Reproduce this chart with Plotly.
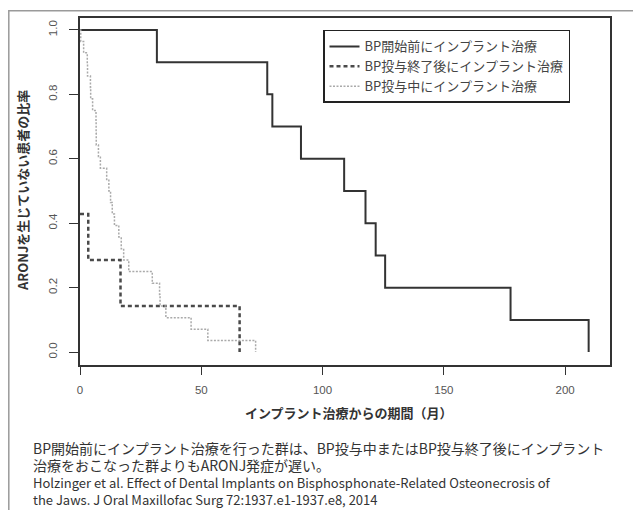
import plotly.graph_objects as go

# ---- data ----
series_names = ["BP開始前にインプラント治療", "BP投与終了後にインプラント治療", "BP投与中にインプラント治療"]

before_t = [0, 31.7, 77.2, 79.3, 91.1, 108.9, 117.7, 121.9, 125.8, 177.5, 209.7]
before_s = [1.0, 0.9, 0.8, 0.7, 0.6, 0.5, 0.4, 0.3, 0.2, 0.1, 0.0]

after_t = [0, 3.4, 16.7, 65.8]
after_s = [0.429, 0.286, 0.143, 0.0]

during_t = [0, 0.3, 1.5, 3.0, 3.1, 4.3, 4.4, 5.2, 6.6, 6.65, 6.7, 7.6, 8.4, 11.0, 11.9,
            12.6, 13.3, 14.2, 16.0, 17.0, 18.0, 20.1, 29.8, 32.8, 33.0, 35.4, 45.8, 52.7, 72.4]
during_s = [1.0, 0.964, 0.929, 0.893, 0.857, 0.821, 0.786, 0.750, 0.714, 0.679, 0.643, 0.607,
            0.571, 0.536, 0.500, 0.464, 0.429, 0.393, 0.357, 0.321, 0.286, 0.250, 0.214, 0.179,
            0.143, 0.107, 0.071, 0.036, 0.0]

x_ticks = [0, 50, 100, 150, 200]
y_ticks = [0.0, 0.2, 0.4, 0.6, 0.8, 1.0]

x_title = "インプラント治療からの期間（月）"
y_title = "ARONJを生じていない患者の比率"
caption_lines = [
    "BP開始前にインプラント治療を行った群は、BP投与中またはBP投与終了後にインプラント",
    "治療をおこなった群よりもARONJ発症が遅い。",
    "Holzinger et al. Effect of Dental Implants on Bisphosphonate-Related Osteonecrosis of",
    "the Jaws. J Oral Maxillofac Surg 72:1937.e1-1937.e8, 2014",
]

# ---- layout geometry (page has an 8px body margin) ----
OFF = 8
W, H = 633, 502
L, R, T, B = 72, 31, 8, 145
PW, PH = W - L - R, H - T - B

def px(x_page):
    return (x_page - OFF - L) / PW

def py(y_page):
    return (OFF + H - B - y_page) / PH

JP = "Noto Sans CJK JP"
TXT = "#333333"

fig = go.Figure()
fig.add_trace(go.Scatter(x=before_t, y=before_s, mode="lines", name=series_names[0],
                         line=dict(shape="hv", color="#333333", width=2)))
fig.add_trace(go.Scatter(x=after_t, y=after_s, mode="lines", name=series_names[1],
                         line=dict(shape="hv", color="#4a4a4a", width=2.5, dash="4px,3px")))
fig.add_trace(go.Scatter(x=during_t, y=during_s, mode="lines", name=series_names[2],
                         line=dict(shape="hv", color="#aaaaaa", width=1.5, dash="2px,1.5px")))

axis_common = dict(showline=True, mirror=True, linecolor="#333333", linewidth=2,
                   showgrid=False, zeroline=False, ticks="outside",
                   tickcolor="#333333", tickwidth=1,
                   tickfont=dict(family="Liberation Sans", size=11.5, color="#555555"))

fig.update_xaxes(range=[0, 218.5], tickvals=x_ticks, ticklen=8, ticklabelstandoff=5,
                 **axis_common)
fig.update_yaxes(range=[-0.04, 1.037], tickvals=y_ticks, tickformat=".1f",
                 tickangle=-90, ticklen=9, ticklabelstandoff=7, **axis_common)

caption_html = "<br>".join(
    ["<span style='font-size:14px'>" + caption_lines[0] + "</span>",
     "<span style='font-size:14px'>" + caption_lines[1] + "</span>",
     caption_lines[2], caption_lines[3]])

annotations = [
    dict(text="<b>" + x_title + "</b>", x=px(349), y=py(413), xref="paper", yref="paper",
         showarrow=False, font=dict(family=JP, size=13, color=TXT),
         xanchor="center", yanchor="middle"),
    dict(text="<b>" + y_title + "</b>", x=px(22), y=py(190), xref="paper", yref="paper",
         showarrow=False, textangle=-90, font=dict(family=JP, size=13, color=TXT),
         xanchor="center", yanchor="middle"),
    dict(text=caption_html, x=px(31), y=py(474), xref="paper", yref="paper",
         showarrow=False, align="left", font=dict(family=JP, size=13, color=TXT),
         xanchor="left", yanchor="middle"),
]

fig.update_layout(
    width=W, height=H,
    margin=dict(l=L, r=R, t=T, b=B),
    paper_bgcolor="white", plot_bgcolor="white",
    showlegend=True,
    legend=dict(x=px(323), y=py(28), xanchor="left", yanchor="top",
                bgcolor="white", bordercolor="#222222", borderwidth=1.5,
                font=dict(family=JP, size=13, color="#444444"),
                tracegroupgap=0),
    annotations=annotations,
    shapes=[dict(type="rect", xref="paper", yref="paper",
                 x0=px(8.8), x1=px(700), y0=py(8.8), y1=py(560),
                 line=dict(color="#9a9a9a", width=1.5), layer="below")],
)

fig.write_html("out.html")
